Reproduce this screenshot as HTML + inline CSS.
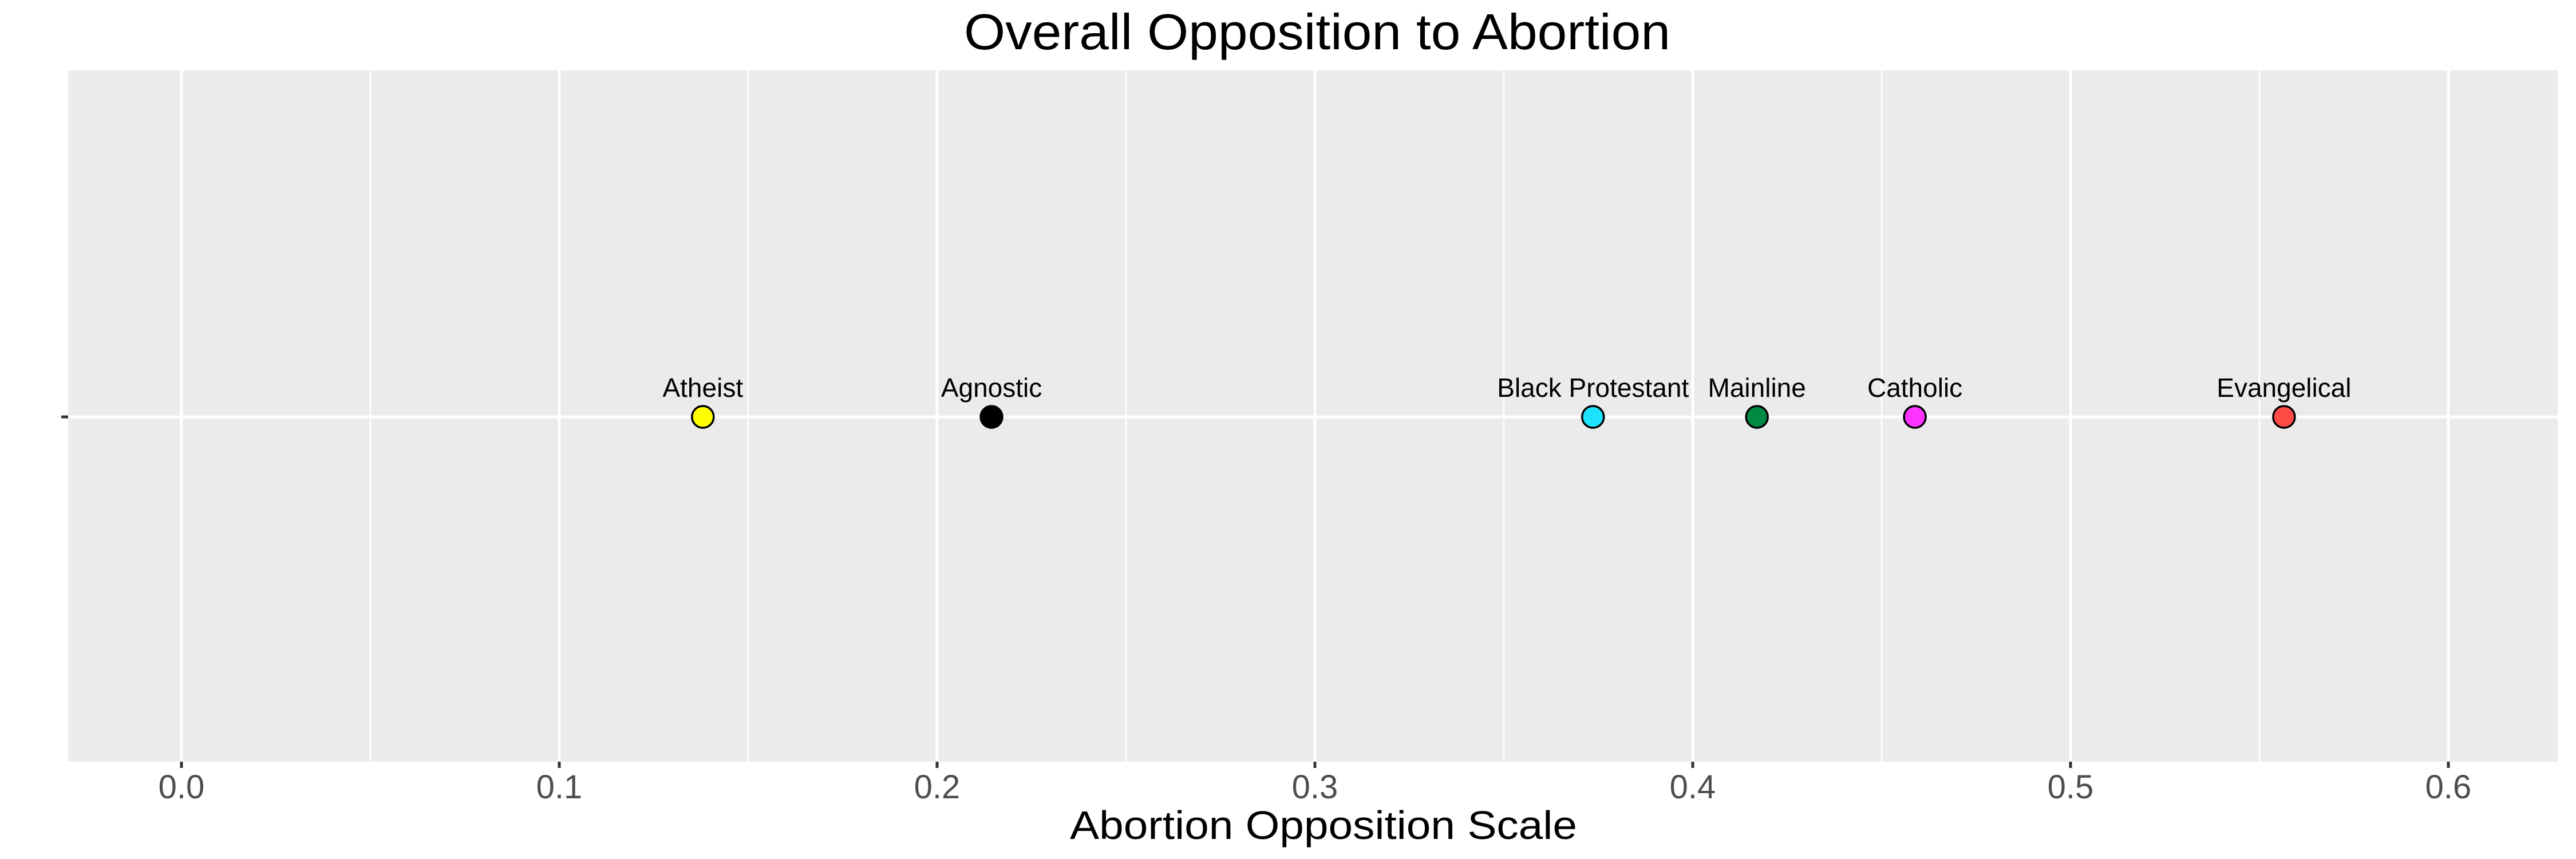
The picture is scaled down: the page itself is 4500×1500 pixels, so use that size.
<!DOCTYPE html>
<html><head><meta charset="utf-8"><style>
html,body{margin:0;padding:0;background:#fff;}
svg{display:block;font-family:"Liberation Sans","DejaVu Sans",sans-serif;}
</style></head><body>
<svg id="chart" width="4500" height="1500" viewBox="0 0 4500 1500" xmlns="http://www.w3.org/2000/svg">
<rect width="4500" height="1500" fill="#fff"/>
<text x="2301" y="86" font-size="88" text-anchor="middle" fill="#000" textLength="1234" lengthAdjust="spacingAndGlyphs">Overall Opposition to Abortion</text>
<rect x="119" y="123" width="4349" height="1207" fill="#ebebeb"/>
<g id="grid"></g>
<g id="ticks"></g>
<g id="points"></g>
<text x="2312" y="1465" font-size="70" text-anchor="middle" fill="#000" textLength="886" lengthAdjust="spacingAndGlyphs">Abortion Opposition Scale</text>
</svg>
<script>
const categories = ["Atheist","Agnostic","Black Protestant","Mainline","Catholic","Evangelical"];
const values = [0.138, 0.2144, 0.3736, 0.417, 0.4588, 0.5565];
const colors = ["#ffff00","#000000","#1ee3ff","#008b45","#ff33ff","#ff4b46"];
const tickValues = [0,0.1,0.2,0.3,0.4,0.5,0.6];
const tickLabels = ["0.0","0.1","0.2","0.3","0.4","0.5","0.6"];
const minorValues = [0.05,0.15,0.25,0.35,0.45,0.55];

const NS="http://www.w3.org/2000/svg";
const PL=119, PR=4468, PT=123, PB=1330, YC=728;
function xs(v){ return 317 + v*6600; }
function mk(tag, attrs, parent){ const e=document.createElementNS(NS,tag); for(const k in attrs) e.setAttribute(k,attrs[k]); parent.appendChild(e); return e; }
const grid=document.getElementById('grid'), ticks=document.getElementById('ticks'), pts=document.getElementById('points');
minorValues.forEach(v=>{
  const l=mk('line',{x1:xs(v),x2:xs(v),y1:PT,y2:PB,stroke:'#fff','stroke-width':2.5},grid);
  
  
});
tickValues.forEach((v,i)=>{
  const l=mk('line',{x1:xs(v),x2:xs(v),y1:PT,y2:PB,stroke:'#fff','stroke-width':5},grid);
  
  
  const t=mk('line',{x1:xs(v),x2:xs(v),y1:PB,y2:PB+11,stroke:'#333','stroke-width':5},ticks);
  
  
  const tx=mk('text',{x:xs(v),y:1394,'font-size':58,'text-anchor':'middle',fill:'#4d4d4d'},ticks);
  tx.textContent=tickLabels[i];
  
  
});
const hl=mk('line',{x1:PL,x2:PR,y1:YC,y2:YC,stroke:'#fff','stroke-width':5},grid);


const yt=mk('line',{x1:107,x2:119,y1:YC,y2:YC,stroke:'#333','stroke-width':5},ticks);


categories.forEach((c,i)=>{
  const cx=xs(values[i]);
  const p=mk('circle',{cx:cx,cy:YC,r:19,fill:colors[i],stroke:'#000','stroke-width':3.5},pts);
  
  
  const t=mk('text',{x:cx,y:693,'font-size':46,'text-anchor':'middle',fill:'#000'},pts);
  t.textContent=c;
  
  
});
</script>
</body></html>
